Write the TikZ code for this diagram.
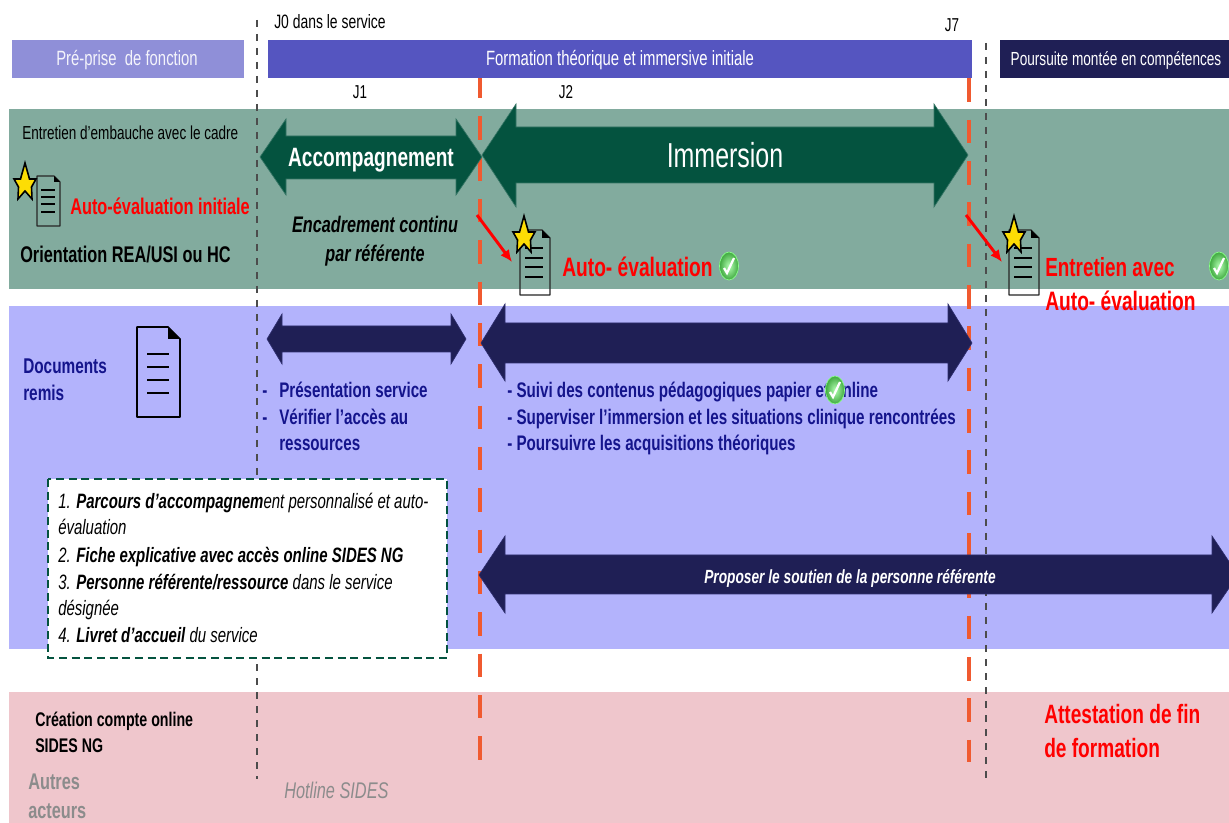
\documentclass[tikz,border=0pt]{standalone}
\usepackage{fontspec}
\setmainfont{Liberation Sans}[FakeStretch=0.72]
\usetikzlibrary{arrows.meta}
\definecolor{bandgreen}{HTML}{82AB9E}
\definecolor{bandblue}{HTML}{B3B3FC}
\definecolor{bandpink}{HTML}{EFC6CC}
\definecolor{hdrA}{HTML}{8F8FD8}
\definecolor{hdrB}{HTML}{5555C0}
\definecolor{navy}{HTML}{1F1F55}
\definecolor{navyedge}{HTML}{2E2E6E}
\definecolor{deepgreen}{HTML}{04533F}
\definecolor{orangered}{HTML}{F05A30}
\definecolor{inkblue}{HTML}{14148C}
\definecolor{softgrey}{HTML}{8C8C8C}
\tikzset{
  x=0.75pt,y=-0.75pt,
  band/.style={fill=#1,draw=none},
  hdr/.style={fill=#1,draw=none},
  vdash/.style={draw=black!70,line width=1pt,dash pattern=on 5.5pt off 5pt},
  rdash/.style={draw=orangered,line width=3pt,dash pattern=on 17.6pt off 13.4pt},
  greenarrow/.style={fill=deepgreen,draw=deepgreen!80!white,line width=0.5pt,line join=miter},
  navyarrow/.style={fill=navy,draw=navyedge,line width=0.5pt,line join=miter},
  base/.style={inner sep=0pt,text height=0.92em,text depth=0em},
  txt/.style={base,anchor=west,font=\fontsize{#1}{#1}\selectfont},
  btxt/.style={base,anchor=west,font=\fontsize{#1}{#1}\selectfont\bfseries},
  itxt/.style={base,anchor=west,font=\fontsize{#1}{#1}\selectfont\itshape},
  ctr/.style={base,anchor=center,font=\fontsize{#1}{#1}\selectfont},
  bctr/.style={base,anchor=center,font=\fontsize{#1}{#1}\selectfont\bfseries},
  bictr/.style={base,anchor=center,font=\fontsize{#1}{#1}\selectfont\bfseries\itshape},
  redarrow/.style={draw=red,line width=2.2pt,-{Latex[length=9pt,width=8pt]}},
  docpic/.pic={
    \path[draw=black!85,line width=1pt,line join=round]
      (0,0) -- (22,0) -- (30,8) -- (30,65) -- (0,65) -- cycle;
    \fill[black] (22,0) -- (30,8) -- (22,8) -- cycle;
    \foreach \yy in {18,28,37,47}{\draw[black,line width=1pt] (5,\yy) -- (23,\yy);}
  },
  smalldoc/.pic={
    \path[draw=black!85,line width=0.8pt,line join=round]
      (0,0) -- (17,0) -- (23,6) -- (23,50) -- (0,50) -- cycle;
    \fill[black] (17,0) -- (23,6) -- (17,6) -- cycle;
    \foreach \yy in {14,21,28,36}{\draw[black,line width=0.8pt] (4,\yy) -- (18,\yy);}
  },
  bigdoc/.pic={
    \path[draw=black,line width=1.3pt,line join=round]
      (0,0) -- (31,0) -- (43,12) -- (43,90) -- (0,90) -- cycle;
    \fill[black] (31,0) -- (43,12) -- (31,12) -- cycle;
    \foreach \yy in {27,40,53,66}{\draw[black,line width=1.2pt] (10,\yy) -- (32,\yy);}
  },
  starpic/.pic={
    \path[fill=yellow!80!orange,draw=black,line width=1.2pt,line join=miter]
      (0,-20) -- (4.5,-4) -- (11,-4) -- (6.5,4) -- (7,16) -- (0,8) -- (-7,16)
      -- (-6.5,4) -- (-11,-4) -- (-4.5,-4) -- cycle;
  },
  checkpic/.pic={
    \path[draw=green!45!white,line width=0.5pt,inner color=green!30!white,outer color=green!55!black!75] (0,0) ellipse (9.5 and 14);
    \draw[white,line width=1.7pt] (-5,2) -- (-2,7) -- (5,-8);
  }
}
\begin{document}
\begin{tikzpicture}
\useasboundingbox (0,0) rectangle (1229,823);
\clip (0,0) rectangle (1229,823);
\fill[white] (0,0) rectangle (1229,823);

% bands
\path[band=bandgreen] (9,109) rectangle (1229,289);
\path[band=bandblue] (9,306) rectangle (1229,649);
\path[band=bandpink] (9,692) rectangle (1229,823);

% timeline ends
\coordinate (a0) at (257,20);
\coordinate (a1) at (257,779);
\coordinate (b0) at (986,43);
\coordinate (b1) at (986,780);
\coordinate (r0) at (480,75);
\coordinate (r1) at (480,760);
\coordinate (s0) at (969,78.4);
\coordinate (s1) at (969,762);
\draw[vdash] (a0) -- (a1);
\draw[vdash] (b0) -- (b1);
\draw[rdash] (r0) -- (r1);
\draw[rdash] (s0) -- (s1);

% headers
\path[hdr=hdrA] (12,40) rectangle (244,78);
\path[hdr=hdrB] (268,40) rectangle (972,78);
\path[hdr=navy] (1000,40) rectangle (1229,78);
\node[ctr=15.5,text=white!90!hdrA] (h1) at (127,59) {Pré-prise\ \ de fonction};
\node[ctr=15.5,text=white] (h2) at (620,59) {Formation théorique et immersive initiale};
\node[ctr=14.2,text=white] (h3) at (1116,59) {Poursuite montée en compétences};

\node[txt=14.5] (j0) at (274,22) {J0 dans le service};
\node[ctr=14] (j7) at (952,25) {J7};
\node[ctr=14] (j1) at (360,92) {J1};
\node[ctr=14] (j2) at (566,92) {J2};

% green arrows
\path[greenarrow] (260,157) -- (286,119) -- (286,136) -- (456,136) -- (456,119) -- (482,157) -- (456,195) -- (456,179) -- (286,179) -- (286,195) -- cycle;
\path[greenarrow] (482,155) -- (516,104) -- (516,127) -- (934,127) -- (934,104) -- (968,155) -- (934,207) -- (934,183) -- (516,183) -- (516,207) -- cycle;
\node[bctr=19.9,text=white] (acc) at (371,160) {Accompagnement};
\node[ctr=26,text=white] (imm) at (725,161) {Immersion};

% navy arrows
\path[navyarrow] (267,339) -- (282,314) -- (282,326) -- (451,326) -- (451,314) -- (466,339) -- (451,364) -- (451,352) -- (282,352) -- (282,364) -- cycle;
\path[navyarrow] (481,343) -- (505,304) -- (505,323) -- (948,323) -- (948,304) -- (972,343) -- (948,381) -- (948,363) -- (505,363) -- (505,381) -- cycle;
\path[navyarrow] (479,575) -- (505,536) -- (505,555) -- (1212,555) -- (1212,536) -- (1238,575) -- (1212,613) -- (1212,594) -- (505,594) -- (505,613) -- cycle;
\node[bictr=14.3,text=white] (prop) at (850,577) {Proposer le soutien de la personne référente};

% left green band
\node[txt=14.1] (ent) at (22,133) {Entretien d’embauche avec le cadre};
\pic at (37,176) {smalldoc};
\pic at (25,183) {starpic};
\node[btxt=17,text=red] (auto0) at (70,208) {Auto-évaluation initiale};
\node[btxt=17] (orient) at (20,256) {Orientation REA/USI ou HC};
\node[bictr=16.9] (enc1) at (375,226) {Encadrement continu};
\node[bictr=16.9] (enc2) at (375,255) {par référente};

% self-evaluation J2
\coordinate (ra0) at (477,215);
\coordinate (ra1) at (512,262);
\draw[redarrow] (ra0) -- (ra1);
\pic at (520,230) {docpic};
\pic at (524,236) {starpic};
\node[btxt=20,text=red] (auto1) at (562,270) {Auto- évaluation};
\pic at (729,266) {checkpic};

% self-evaluation J7
\coordinate (rb0) at (966,215);
\coordinate (rb1) at (1002,262);
\draw[redarrow] (rb0) -- (rb1);
\pic at (1009,230) {docpic};
\pic at (1014,236) {starpic};
\node[btxt=19.7,text=red] (ent2) at (1045,270) {Entretien avec};
\node[btxt=20,text=red] (auto2) at (1045,304) {Auto- évaluation};
\pic at (1219,266) {checkpic};

% blue band
\node[btxt=16,text=inkblue] (doc1) at (23,367) {Documents};
\node[btxt=16,text=inkblue] (doc2) at (23,394) {remis};
\pic at (137,327) {bigdoc};

\node[btxt=15.8,text=inkblue] (p0) at (262,391) {-};
\node[btxt=15.8,text=inkblue] (p1) at (279,391) {Présentation service};
\node[btxt=15.8,text=inkblue] (p2) at (262,418) {-};
\node[btxt=15.8,text=inkblue] (p3) at (279,418) {Vérifier l’accès au};
\node[btxt=15.8,text=inkblue] (p4) at (279,444) {ressources};

\node[btxt=15.8,text=inkblue] (q1) at (507,391) {- Suivi des contenus pédagogiques papier et online};
\node[btxt=15.8,text=inkblue] (q2) at (507,418) {- Superviser l’immersion et les situations clinique rencontrées};
\node[btxt=15.8,text=inkblue] (q3) at (507,444) {- Poursuivre les acquisitions théoriques};
\pic at (835,390) {checkpic};

% documents box
\path[fill=white,draw=deepgreen,line width=1.8pt,dash pattern=on 6pt off 3.5pt] (48,479) rectangle (447,658);
\node[itxt=15.6] (l1) at (58,502) {1. \textbf{Parcours d’accompagnem}ent personnalisé et auto-};
\node[itxt=15.6] (l2) at (58,528) {évaluation};
\node[itxt=15.6] (l3) at (58,556) {2. \textbf{Fiche explicative avec accès online SIDES NG}};
\node[itxt=15.6] (l4) at (58,583) {3. \textbf{Personne référente/ressource} dans le service};
\node[itxt=15.6] (l5) at (58,609) {désignée};
\node[itxt=15.6] (l6) at (58,636) {4. \textbf{Livret d’accueil} du service};

% pink band
\node[btxt=14.8] (c1) at (35,720) {Création compte online};
\node[btxt=14.8] (c2) at (35,746) {SIDES NG};
\node[btxt=17,text=softgrey] (o1) at (28,783) {Autres};
\node[btxt=17,text=softgrey] (o2) at (28,812) {acteurs};
\node[itxt=17,text=softgrey] (hot) at (284,792) {Hotline SIDES};
\node[btxt=19.9,text=red] (att1) at (1044,717) {Attestation de fin};
\node[btxt=19.9,text=red] (att2) at (1044,751) {de formation};
\end{tikzpicture}
\end{document}
